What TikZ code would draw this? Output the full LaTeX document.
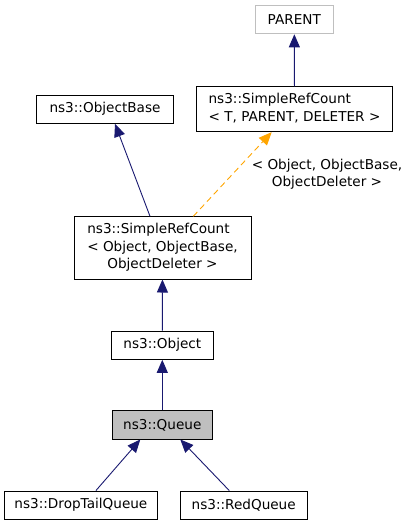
\documentclass[tikz,border=0pt]{standalone}
\usepackage{fontspec}
\setmainfont{DejaVu Sans}
\usetikzlibrary{arrows.meta}
\definecolor{edgeblue}{HTML}{191970}
\definecolor{tmplorange}{HTML}{FFA500}
\definecolor{boxgray}{HTML}{BFBFBF}
\begin{document}
\begin{tikzpicture}[x=1pt,y=-1pt,
 cls/.style={draw,line width=0.9pt,inner sep=0pt,minimum height=28.3pt,font=\fontsize{13.6}{17.4}\selectfont},
 inh/.style={draw=edgeblue,line width=0.9pt,-{Triangle[length=13pt,width=11pt]}},
 tmpl/.style={draw=tmplorange,line width=0.9pt,dash pattern=on 6pt off 4pt,-{Triangle[length=13pt,width=11pt,fill=tmplorange]}}]
\useasboundingbox (0,0) rectangle (413,525);

\node[cls,draw=boxgray,minimum width=78pt] (parent) at (294.3,19.7) {PARENT};
\node[cls,minimum width=195.6pt,minimum height=45pt] (srcT) at (294.5,109.2)
 {\begin{tabular}{@{}l@{}}ns3::SimpleRefCount\\< T, PARENT, DELETER >\end{tabular}};
\node[cls,minimum width=136.6pt] (objbase) at (105,109.2) {ns3::ObjectBase};
\node[cls,minimum width=177pt,minimum height=62.3pt] (srcObj) at (162.5,247.9)
 {\begin{tabular}{@{}l@{}}ns3::SimpleRefCount\\< Object, ObjectBase,\\\multicolumn{1}{@{}c@{}}{ObjectDeleter >}\end{tabular}};
\node[cls,minimum width=102.7pt] (object) at (162.3,345.2) {ns3::Object};
\node[cls,fill=boxgray,minimum width=100pt] (queue) at (162.3,424.9) {ns3::Queue};
\node[cls,minimum width=152.3pt] (droptail) at (80.9,505.2) {ns3::DropTailQueue};
\node[cls,minimum width=126.7pt] (red) at (243.7,505.2) {ns3::RedQueue};

\draw[inh] (srcT) -- (parent);
\draw[inh] ([xshift=-12.5pt]srcObj.north) -- ([xshift=10pt]objbase.south);
\draw[tmpl] ([xshift=30.8pt]srcObj.north) -- ([xshift=-22.8pt]srcT.south);
\node[font=\fontsize{13.6}{17.4}\selectfont,align=center] (tlabel) at (327,174)
 {< Object, ObjectBase,\\ObjectDeleter >};
\draw[inh] (object) -- (srcObj);
\draw[inh] (queue) -- (object);
\draw[inh] ([xshift=15pt]droptail.north) -- ([xshift=-22pt]queue.south);
\draw[inh] ([xshift=-14.4pt]red.north) -- ([xshift=18pt]queue.south);
\end{tikzpicture}
\end{document}
